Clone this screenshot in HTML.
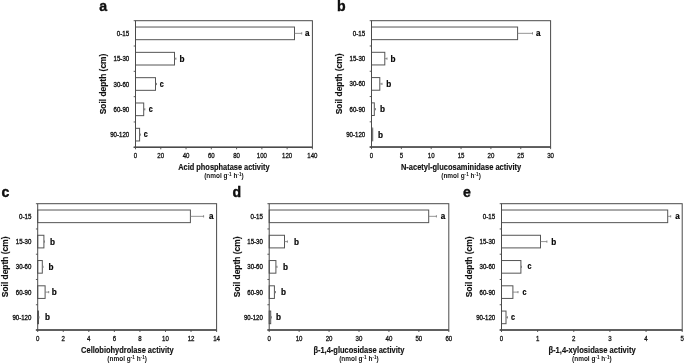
<!DOCTYPE html>
<html><head><meta charset="utf-8"><title>Soil enzyme activity by depth</title>
<style>
html,body{margin:0;padding:0;background:#fff;}
body{width:685px;height:364px;overflow:hidden;}
svg{display:block;font-family:"Liberation Sans",sans-serif;filter:blur(0.35px);}
text{fill:#111;}
.cl{font-size:6.6px;stroke:#111;stroke-width:0.32px;}
.tl{font-size:6.7px;stroke:#111;stroke-width:0.28px;}
.sg{fill:#000;stroke:#000;stroke-width:0.2px;}
.yl,.xl{stroke:#111;stroke-width:0.15px;}
</style></head>
<body>
<svg width="685" height="364" viewBox="0 0 685 364">
<rect width="685" height="364" fill="#fff"/>
<rect x="135.5" y="27.03" width="159" height="12.66" fill="#fff" stroke="#555" stroke-width="1"/>
<line x1="294.5" y1="33.36" x2="301.7" y2="33.36" stroke="#7a7a7a" stroke-width="0.8"/>
<line x1="301.7" y1="32.26" x2="301.7" y2="34.46" stroke="#7a7a7a" stroke-width="0.9"/>
<text class="sg" x="305.1" y="35.96" font-size="8.6" font-weight="bold" textLength="4.5" lengthAdjust="spacingAndGlyphs">a</text>
<text class="cl" x="116.8" y="35.86" textLength="12.4" lengthAdjust="spacingAndGlyphs">0-15</text>
<rect x="135.5" y="52.35" width="39" height="12.66" fill="#fff" stroke="#555" stroke-width="1"/>
<line x1="174.5" y1="58.68" x2="175.9" y2="58.68" stroke="#7a7a7a" stroke-width="0.8"/>
<line x1="175.9" y1="57.58" x2="175.9" y2="59.78" stroke="#7a7a7a" stroke-width="0.9"/>
<text class="sg" x="179.6" y="61.78" font-size="9" font-weight="bold" textLength="5" lengthAdjust="spacingAndGlyphs">b</text>
<text class="cl" x="113.6" y="61.18" textLength="15.6" lengthAdjust="spacingAndGlyphs">15-30</text>
<rect x="135.5" y="77.67" width="20" height="12.66" fill="#fff" stroke="#555" stroke-width="1"/>
<line x1="155.5" y1="84" x2="156.5" y2="84" stroke="#7a7a7a" stroke-width="0.8"/>
<line x1="156.5" y1="82.9" x2="156.5" y2="85.1" stroke="#7a7a7a" stroke-width="0.9"/>
<text class="sg" x="159.8" y="86.6" font-size="8.6" font-weight="bold" textLength="4" lengthAdjust="spacingAndGlyphs">c</text>
<text class="cl" x="113.6" y="86.5" textLength="15.6" lengthAdjust="spacingAndGlyphs">30-60</text>
<rect x="135.5" y="102.99" width="8.2" height="12.66" fill="#fff" stroke="#555" stroke-width="1"/>
<line x1="143.7" y1="109.32" x2="144.8" y2="109.32" stroke="#7a7a7a" stroke-width="0.8"/>
<line x1="144.8" y1="108.22" x2="144.8" y2="110.42" stroke="#7a7a7a" stroke-width="0.9"/>
<text class="sg" x="148.8" y="111.92" font-size="8.6" font-weight="bold" textLength="4" lengthAdjust="spacingAndGlyphs">c</text>
<text class="cl" x="113.6" y="111.82" textLength="15.6" lengthAdjust="spacingAndGlyphs">60-90</text>
<rect x="135.5" y="128.31" width="4.1" height="12.66" fill="#fff" stroke="#555" stroke-width="1"/>
<line x1="139.6" y1="134.64" x2="140.4" y2="134.64" stroke="#7a7a7a" stroke-width="0.8"/>
<line x1="140.4" y1="133.54" x2="140.4" y2="135.74" stroke="#7a7a7a" stroke-width="0.9"/>
<text class="sg" x="143.8" y="137.24" font-size="8.6" font-weight="bold" textLength="4" lengthAdjust="spacingAndGlyphs">c</text>
<text class="cl" x="110.2" y="137.14" textLength="19" lengthAdjust="spacingAndGlyphs">90-120</text>
<line x1="133.7" y1="20.7" x2="135.5" y2="20.7" stroke="#4a4a4a" stroke-width="0.9"/>
<line x1="133.7" y1="46.02" x2="135.5" y2="46.02" stroke="#4a4a4a" stroke-width="0.9"/>
<line x1="133.7" y1="71.34" x2="135.5" y2="71.34" stroke="#4a4a4a" stroke-width="0.9"/>
<line x1="133.7" y1="96.66" x2="135.5" y2="96.66" stroke="#4a4a4a" stroke-width="0.9"/>
<line x1="133.7" y1="121.98" x2="135.5" y2="121.98" stroke="#4a4a4a" stroke-width="0.9"/>
<line x1="133.7" y1="147.3" x2="135.5" y2="147.3" stroke="#4a4a4a" stroke-width="0.9"/>
<line x1="135.5" y1="147.3" x2="135.5" y2="149.3" stroke="#4a4a4a" stroke-width="0.9"/>
<text class="tl" x="133.8" y="158" textLength="3.4" lengthAdjust="spacingAndGlyphs">0</text>
<line x1="160.77" y1="147.3" x2="160.77" y2="149.3" stroke="#4a4a4a" stroke-width="0.9"/>
<text class="tl" x="157.37" y="158" textLength="6.8" lengthAdjust="spacingAndGlyphs">20</text>
<line x1="186.04" y1="147.3" x2="186.04" y2="149.3" stroke="#4a4a4a" stroke-width="0.9"/>
<text class="tl" x="182.64" y="158" textLength="6.8" lengthAdjust="spacingAndGlyphs">40</text>
<line x1="211.31" y1="147.3" x2="211.31" y2="149.3" stroke="#4a4a4a" stroke-width="0.9"/>
<text class="tl" x="207.91" y="158" textLength="6.8" lengthAdjust="spacingAndGlyphs">60</text>
<line x1="236.59" y1="147.3" x2="236.59" y2="149.3" stroke="#4a4a4a" stroke-width="0.9"/>
<text class="tl" x="233.19" y="158" textLength="6.8" lengthAdjust="spacingAndGlyphs">80</text>
<line x1="261.86" y1="147.3" x2="261.86" y2="149.3" stroke="#4a4a4a" stroke-width="0.9"/>
<text class="tl" x="256.76" y="158" textLength="10.2" lengthAdjust="spacingAndGlyphs">100</text>
<line x1="287.13" y1="147.3" x2="287.13" y2="149.3" stroke="#4a4a4a" stroke-width="0.9"/>
<text class="tl" x="282.03" y="158" textLength="10.2" lengthAdjust="spacingAndGlyphs">120</text>
<line x1="312.4" y1="147.3" x2="312.4" y2="149.3" stroke="#4a4a4a" stroke-width="0.9"/>
<text class="tl" x="307.3" y="158" textLength="10.2" lengthAdjust="spacingAndGlyphs">140</text>
<rect x="135.5" y="20.7" width="176.9" height="126.6" fill="none" stroke="#4a4a4a" stroke-width="1"/>
<line x1="133.7" y1="147.3" x2="312.4" y2="147.3" stroke="#4a4a4a" stroke-width="1.5"/>
<text class="xl" x="178.2" y="170.4" font-size="8.3" font-weight="bold" textLength="91.4" lengthAdjust="spacingAndGlyphs">Acid phosphatase activity</text>
<text x="204.15" y="178.3" font-size="6.4" font-weight="bold" textLength="39.6" lengthAdjust="spacingAndGlyphs">(nmol g<tspan dy="-2.4" font-size="4.6">-1</tspan><tspan dy="2.4"> h</tspan><tspan dy="-2.4" font-size="4.6">-1</tspan><tspan dy="2.4">)</tspan></text>
<text class="yl" transform="translate(106.1 84) rotate(-90)" x="-30.35" y="0" font-size="9.3" font-weight="bold" textLength="60.7" lengthAdjust="spacingAndGlyphs">Soil depth (cm)</text>
<text x="99.3" y="11.1" font-size="14.1" font-weight="bold" fill="#000" stroke="#000" stroke-width="0.35">a</text>
<rect x="371.5" y="27.02" width="146.1" height="12.64" fill="#fff" stroke="#555" stroke-width="1"/>
<line x1="517.6" y1="33.34" x2="532.5" y2="33.34" stroke="#7a7a7a" stroke-width="0.8"/>
<line x1="532.5" y1="32.24" x2="532.5" y2="34.44" stroke="#7a7a7a" stroke-width="0.9"/>
<text class="sg" x="536.1" y="35.94" font-size="8.6" font-weight="bold" textLength="4.5" lengthAdjust="spacingAndGlyphs">a</text>
<text class="cl" x="352.8" y="35.84" textLength="12.4" lengthAdjust="spacingAndGlyphs">0-15</text>
<rect x="371.5" y="52.3" width="13.3" height="12.64" fill="#fff" stroke="#555" stroke-width="1"/>
<line x1="384.8" y1="58.62" x2="387" y2="58.62" stroke="#7a7a7a" stroke-width="0.8"/>
<line x1="387" y1="57.52" x2="387" y2="59.72" stroke="#7a7a7a" stroke-width="0.9"/>
<text class="sg" x="390.4" y="61.72" font-size="9" font-weight="bold" textLength="5" lengthAdjust="spacingAndGlyphs">b</text>
<text class="cl" x="349.6" y="61.12" textLength="15.6" lengthAdjust="spacingAndGlyphs">15-30</text>
<rect x="371.5" y="77.58" width="8.3" height="12.64" fill="#fff" stroke="#555" stroke-width="1"/>
<line x1="379.8" y1="83.9" x2="382" y2="83.9" stroke="#7a7a7a" stroke-width="0.8"/>
<line x1="382" y1="82.8" x2="382" y2="85" stroke="#7a7a7a" stroke-width="0.9"/>
<text class="sg" x="386.3" y="87" font-size="9" font-weight="bold" textLength="5" lengthAdjust="spacingAndGlyphs">b</text>
<text class="cl" x="349.6" y="86.4" textLength="15.6" lengthAdjust="spacingAndGlyphs">30-60</text>
<rect x="371.5" y="102.86" width="2.8" height="12.64" fill="#fff" stroke="#555" stroke-width="1"/>
<line x1="374.3" y1="109.18" x2="375.5" y2="109.18" stroke="#7a7a7a" stroke-width="0.8"/>
<line x1="375.5" y1="108.08" x2="375.5" y2="110.28" stroke="#7a7a7a" stroke-width="0.9"/>
<text class="sg" x="380.1" y="112.28" font-size="9" font-weight="bold" textLength="5" lengthAdjust="spacingAndGlyphs">b</text>
<text class="cl" x="349.6" y="111.68" textLength="15.6" lengthAdjust="spacingAndGlyphs">60-90</text>
<rect x="371.5" y="128.14" width="1.2" height="12.64" fill="#fff" stroke="#555" stroke-width="1"/>
<text class="sg" x="378" y="137.56" font-size="9" font-weight="bold" textLength="5" lengthAdjust="spacingAndGlyphs">b</text>
<text class="cl" x="346.2" y="136.96" textLength="19" lengthAdjust="spacingAndGlyphs">90-120</text>
<line x1="369.7" y1="20.7" x2="371.5" y2="20.7" stroke="#4a4a4a" stroke-width="0.9"/>
<line x1="369.7" y1="45.98" x2="371.5" y2="45.98" stroke="#4a4a4a" stroke-width="0.9"/>
<line x1="369.7" y1="71.26" x2="371.5" y2="71.26" stroke="#4a4a4a" stroke-width="0.9"/>
<line x1="369.7" y1="96.54" x2="371.5" y2="96.54" stroke="#4a4a4a" stroke-width="0.9"/>
<line x1="369.7" y1="121.82" x2="371.5" y2="121.82" stroke="#4a4a4a" stroke-width="0.9"/>
<line x1="369.7" y1="147.1" x2="371.5" y2="147.1" stroke="#4a4a4a" stroke-width="0.9"/>
<line x1="371.5" y1="147.1" x2="371.5" y2="149.1" stroke="#4a4a4a" stroke-width="0.9"/>
<text class="tl" x="369.8" y="157.8" textLength="3.4" lengthAdjust="spacingAndGlyphs">0</text>
<line x1="401.35" y1="147.1" x2="401.35" y2="149.1" stroke="#4a4a4a" stroke-width="0.9"/>
<text class="tl" x="399.65" y="157.8" textLength="3.4" lengthAdjust="spacingAndGlyphs">5</text>
<line x1="431.2" y1="147.1" x2="431.2" y2="149.1" stroke="#4a4a4a" stroke-width="0.9"/>
<text class="tl" x="427.8" y="157.8" textLength="6.8" lengthAdjust="spacingAndGlyphs">10</text>
<line x1="461.05" y1="147.1" x2="461.05" y2="149.1" stroke="#4a4a4a" stroke-width="0.9"/>
<text class="tl" x="457.65" y="157.8" textLength="6.8" lengthAdjust="spacingAndGlyphs">15</text>
<line x1="490.9" y1="147.1" x2="490.9" y2="149.1" stroke="#4a4a4a" stroke-width="0.9"/>
<text class="tl" x="487.5" y="157.8" textLength="6.8" lengthAdjust="spacingAndGlyphs">20</text>
<line x1="520.75" y1="147.1" x2="520.75" y2="149.1" stroke="#4a4a4a" stroke-width="0.9"/>
<text class="tl" x="517.35" y="157.8" textLength="6.8" lengthAdjust="spacingAndGlyphs">25</text>
<line x1="550.6" y1="147.1" x2="550.6" y2="149.1" stroke="#4a4a4a" stroke-width="0.9"/>
<text class="tl" x="547.2" y="157.8" textLength="6.8" lengthAdjust="spacingAndGlyphs">30</text>
<rect x="371.5" y="20.7" width="179.1" height="126.4" fill="none" stroke="#4a4a4a" stroke-width="1"/>
<line x1="369.7" y1="147.1" x2="550.6" y2="147.1" stroke="#4a4a4a" stroke-width="1.5"/>
<text class="xl" x="400.9" y="170.2" font-size="8.3" font-weight="bold" textLength="120.3" lengthAdjust="spacingAndGlyphs">N-acetyl-glucosaminidase activity</text>
<text x="441.25" y="178.1" font-size="6.4" font-weight="bold" textLength="39.6" lengthAdjust="spacingAndGlyphs">(nmol g<tspan dy="-2.4" font-size="4.6">-1</tspan><tspan dy="2.4"> h</tspan><tspan dy="-2.4" font-size="4.6">-1</tspan><tspan dy="2.4">)</tspan></text>
<text class="yl" transform="translate(342.1 83.9) rotate(-90)" x="-30.35" y="0" font-size="9.3" font-weight="bold" textLength="60.7" lengthAdjust="spacingAndGlyphs">Soil depth (cm)</text>
<text x="336.9" y="11.1" font-size="14.1" font-weight="bold" fill="#000" stroke="#000" stroke-width="0.35">b</text>
<rect x="37.7" y="210.01" width="152.7" height="12.63" fill="#fff" stroke="#555" stroke-width="1"/>
<line x1="190.4" y1="216.33" x2="203.6" y2="216.33" stroke="#7a7a7a" stroke-width="0.8"/>
<line x1="203.6" y1="215.23" x2="203.6" y2="217.43" stroke="#7a7a7a" stroke-width="0.9"/>
<text class="sg" x="209" y="218.93" font-size="8.6" font-weight="bold" textLength="4.5" lengthAdjust="spacingAndGlyphs">a</text>
<text class="cl" x="19" y="218.83" textLength="12.4" lengthAdjust="spacingAndGlyphs">0-15</text>
<rect x="37.7" y="235.27" width="6.2" height="12.63" fill="#fff" stroke="#555" stroke-width="1"/>
<line x1="43.9" y1="241.59" x2="44.5" y2="241.59" stroke="#7a7a7a" stroke-width="0.8"/>
<line x1="44.5" y1="240.49" x2="44.5" y2="242.69" stroke="#7a7a7a" stroke-width="0.9"/>
<text class="sg" x="49.9" y="244.69" font-size="9" font-weight="bold" textLength="5" lengthAdjust="spacingAndGlyphs">b</text>
<text class="cl" x="15.8" y="244.09" textLength="15.6" lengthAdjust="spacingAndGlyphs">15-30</text>
<rect x="37.7" y="260.54" width="4.6" height="12.63" fill="#fff" stroke="#555" stroke-width="1"/>
<line x1="42.3" y1="266.85" x2="43" y2="266.85" stroke="#7a7a7a" stroke-width="0.8"/>
<line x1="43" y1="265.75" x2="43" y2="267.95" stroke="#7a7a7a" stroke-width="0.9"/>
<text class="sg" x="48.5" y="269.95" font-size="9" font-weight="bold" textLength="5" lengthAdjust="spacingAndGlyphs">b</text>
<text class="cl" x="15.8" y="269.35" textLength="15.6" lengthAdjust="spacingAndGlyphs">30-60</text>
<rect x="37.7" y="285.8" width="7.4" height="12.63" fill="#fff" stroke="#555" stroke-width="1"/>
<line x1="45.1" y1="292.11" x2="48.7" y2="292.11" stroke="#7a7a7a" stroke-width="0.8"/>
<line x1="48.7" y1="291.01" x2="48.7" y2="293.21" stroke="#7a7a7a" stroke-width="0.9"/>
<text class="sg" x="51.8" y="295.21" font-size="9" font-weight="bold" textLength="5" lengthAdjust="spacingAndGlyphs">b</text>
<text class="cl" x="15.8" y="294.61" textLength="15.6" lengthAdjust="spacingAndGlyphs">60-90</text>
<rect x="37.7" y="311.06" width="0.8" height="12.63" fill="#fff" stroke="#555" stroke-width="1"/>
<line x1="38.5" y1="317.37" x2="39" y2="317.37" stroke="#7a7a7a" stroke-width="0.8"/>
<line x1="39" y1="316.27" x2="39" y2="318.47" stroke="#7a7a7a" stroke-width="0.9"/>
<text class="sg" x="44.9" y="320.47" font-size="9" font-weight="bold" textLength="5" lengthAdjust="spacingAndGlyphs">b</text>
<text class="cl" x="12.4" y="319.87" textLength="19" lengthAdjust="spacingAndGlyphs">90-120</text>
<line x1="35.9" y1="203.7" x2="37.7" y2="203.7" stroke="#4a4a4a" stroke-width="0.9"/>
<line x1="35.9" y1="228.96" x2="37.7" y2="228.96" stroke="#4a4a4a" stroke-width="0.9"/>
<line x1="35.9" y1="254.22" x2="37.7" y2="254.22" stroke="#4a4a4a" stroke-width="0.9"/>
<line x1="35.9" y1="279.48" x2="37.7" y2="279.48" stroke="#4a4a4a" stroke-width="0.9"/>
<line x1="35.9" y1="304.74" x2="37.7" y2="304.74" stroke="#4a4a4a" stroke-width="0.9"/>
<line x1="35.9" y1="330" x2="37.7" y2="330" stroke="#4a4a4a" stroke-width="0.9"/>
<line x1="37.7" y1="330" x2="37.7" y2="332" stroke="#4a4a4a" stroke-width="0.9"/>
<text class="tl" x="36" y="340.7" textLength="3.4" lengthAdjust="spacingAndGlyphs">0</text>
<line x1="63.26" y1="330" x2="63.26" y2="332" stroke="#4a4a4a" stroke-width="0.9"/>
<text class="tl" x="61.56" y="340.7" textLength="3.4" lengthAdjust="spacingAndGlyphs">2</text>
<line x1="88.81" y1="330" x2="88.81" y2="332" stroke="#4a4a4a" stroke-width="0.9"/>
<text class="tl" x="87.11" y="340.7" textLength="3.4" lengthAdjust="spacingAndGlyphs">4</text>
<line x1="114.37" y1="330" x2="114.37" y2="332" stroke="#4a4a4a" stroke-width="0.9"/>
<text class="tl" x="112.67" y="340.7" textLength="3.4" lengthAdjust="spacingAndGlyphs">6</text>
<line x1="139.93" y1="330" x2="139.93" y2="332" stroke="#4a4a4a" stroke-width="0.9"/>
<text class="tl" x="138.23" y="340.7" textLength="3.4" lengthAdjust="spacingAndGlyphs">8</text>
<line x1="165.49" y1="330" x2="165.49" y2="332" stroke="#4a4a4a" stroke-width="0.9"/>
<text class="tl" x="162.09" y="340.7" textLength="6.8" lengthAdjust="spacingAndGlyphs">10</text>
<line x1="191.04" y1="330" x2="191.04" y2="332" stroke="#4a4a4a" stroke-width="0.9"/>
<text class="tl" x="187.64" y="340.7" textLength="6.8" lengthAdjust="spacingAndGlyphs">12</text>
<line x1="216.6" y1="330" x2="216.6" y2="332" stroke="#4a4a4a" stroke-width="0.9"/>
<text class="tl" x="213.2" y="340.7" textLength="6.8" lengthAdjust="spacingAndGlyphs">14</text>
<rect x="37.7" y="203.7" width="178.9" height="126.3" fill="none" stroke="#4a4a4a" stroke-width="1"/>
<line x1="35.9" y1="330" x2="216.6" y2="330" stroke="#4a4a4a" stroke-width="1.5"/>
<text class="xl" x="81.1" y="353.1" font-size="8.3" font-weight="bold" textLength="92.5" lengthAdjust="spacingAndGlyphs">Cellobiohydrolase activity</text>
<text x="107.35" y="361" font-size="6.4" font-weight="bold" textLength="39.6" lengthAdjust="spacingAndGlyphs">(nmol g<tspan dy="-2.4" font-size="4.6">-1</tspan><tspan dy="2.4"> h</tspan><tspan dy="-2.4" font-size="4.6">-1</tspan><tspan dy="2.4">)</tspan></text>
<text class="yl" transform="translate(8.3 266.85) rotate(-90)" x="-30.35" y="0" font-size="9.3" font-weight="bold" textLength="60.7" lengthAdjust="spacingAndGlyphs">Soil depth (cm)</text>
<text x="1.5" y="196.8" font-size="14.1" font-weight="bold" fill="#000" stroke="#000" stroke-width="0.35">c</text>
<rect x="269.2" y="210.01" width="159.5" height="12.63" fill="#fff" stroke="#555" stroke-width="1"/>
<line x1="428.7" y1="216.33" x2="436.4" y2="216.33" stroke="#7a7a7a" stroke-width="0.8"/>
<line x1="436.4" y1="215.23" x2="436.4" y2="217.43" stroke="#7a7a7a" stroke-width="0.9"/>
<text class="sg" x="440.7" y="218.93" font-size="8.6" font-weight="bold" textLength="4.5" lengthAdjust="spacingAndGlyphs">a</text>
<text class="cl" x="250.5" y="218.83" textLength="12.4" lengthAdjust="spacingAndGlyphs">0-15</text>
<rect x="269.2" y="235.27" width="15.3" height="12.63" fill="#fff" stroke="#555" stroke-width="1"/>
<line x1="284.5" y1="241.59" x2="287.4" y2="241.59" stroke="#7a7a7a" stroke-width="0.8"/>
<line x1="287.4" y1="240.49" x2="287.4" y2="242.69" stroke="#7a7a7a" stroke-width="0.9"/>
<text class="sg" x="293.9" y="244.69" font-size="9" font-weight="bold" textLength="5" lengthAdjust="spacingAndGlyphs">b</text>
<text class="cl" x="247.3" y="244.09" textLength="15.6" lengthAdjust="spacingAndGlyphs">15-30</text>
<rect x="269.2" y="260.54" width="6.7" height="12.63" fill="#fff" stroke="#555" stroke-width="1"/>
<line x1="275.9" y1="266.85" x2="277" y2="266.85" stroke="#7a7a7a" stroke-width="0.8"/>
<line x1="277" y1="265.75" x2="277" y2="267.95" stroke="#7a7a7a" stroke-width="0.9"/>
<text class="sg" x="282.9" y="269.95" font-size="9" font-weight="bold" textLength="5" lengthAdjust="spacingAndGlyphs">b</text>
<text class="cl" x="247.3" y="269.35" textLength="15.6" lengthAdjust="spacingAndGlyphs">30-60</text>
<rect x="269.2" y="285.8" width="5.2" height="12.63" fill="#fff" stroke="#555" stroke-width="1"/>
<line x1="274.4" y1="292.11" x2="275.5" y2="292.11" stroke="#7a7a7a" stroke-width="0.8"/>
<line x1="275.5" y1="291.01" x2="275.5" y2="293.21" stroke="#7a7a7a" stroke-width="0.9"/>
<text class="sg" x="280.9" y="295.21" font-size="9" font-weight="bold" textLength="5" lengthAdjust="spacingAndGlyphs">b</text>
<text class="cl" x="247.3" y="294.61" textLength="15.6" lengthAdjust="spacingAndGlyphs">60-90</text>
<rect x="269.2" y="311.06" width="1.5" height="12.63" fill="#fff" stroke="#555" stroke-width="1"/>
<line x1="270.7" y1="317.37" x2="271.5" y2="317.37" stroke="#7a7a7a" stroke-width="0.8"/>
<line x1="271.5" y1="316.27" x2="271.5" y2="318.47" stroke="#7a7a7a" stroke-width="0.9"/>
<text class="sg" x="276" y="320.47" font-size="9" font-weight="bold" textLength="5" lengthAdjust="spacingAndGlyphs">b</text>
<text class="cl" x="243.9" y="319.87" textLength="19" lengthAdjust="spacingAndGlyphs">90-120</text>
<line x1="267.4" y1="203.7" x2="269.2" y2="203.7" stroke="#4a4a4a" stroke-width="0.9"/>
<line x1="267.4" y1="228.96" x2="269.2" y2="228.96" stroke="#4a4a4a" stroke-width="0.9"/>
<line x1="267.4" y1="254.22" x2="269.2" y2="254.22" stroke="#4a4a4a" stroke-width="0.9"/>
<line x1="267.4" y1="279.48" x2="269.2" y2="279.48" stroke="#4a4a4a" stroke-width="0.9"/>
<line x1="267.4" y1="304.74" x2="269.2" y2="304.74" stroke="#4a4a4a" stroke-width="0.9"/>
<line x1="267.4" y1="330" x2="269.2" y2="330" stroke="#4a4a4a" stroke-width="0.9"/>
<line x1="269.2" y1="330" x2="269.2" y2="332" stroke="#4a4a4a" stroke-width="0.9"/>
<text class="tl" x="267.5" y="340.7" textLength="3.4" lengthAdjust="spacingAndGlyphs">0</text>
<line x1="299.13" y1="330" x2="299.13" y2="332" stroke="#4a4a4a" stroke-width="0.9"/>
<text class="tl" x="295.73" y="340.7" textLength="6.8" lengthAdjust="spacingAndGlyphs">10</text>
<line x1="329.07" y1="330" x2="329.07" y2="332" stroke="#4a4a4a" stroke-width="0.9"/>
<text class="tl" x="325.67" y="340.7" textLength="6.8" lengthAdjust="spacingAndGlyphs">20</text>
<line x1="359" y1="330" x2="359" y2="332" stroke="#4a4a4a" stroke-width="0.9"/>
<text class="tl" x="355.6" y="340.7" textLength="6.8" lengthAdjust="spacingAndGlyphs">30</text>
<line x1="388.93" y1="330" x2="388.93" y2="332" stroke="#4a4a4a" stroke-width="0.9"/>
<text class="tl" x="385.53" y="340.7" textLength="6.8" lengthAdjust="spacingAndGlyphs">40</text>
<line x1="418.87" y1="330" x2="418.87" y2="332" stroke="#4a4a4a" stroke-width="0.9"/>
<text class="tl" x="415.47" y="340.7" textLength="6.8" lengthAdjust="spacingAndGlyphs">50</text>
<line x1="448.8" y1="330" x2="448.8" y2="332" stroke="#4a4a4a" stroke-width="0.9"/>
<text class="tl" x="445.4" y="340.7" textLength="6.8" lengthAdjust="spacingAndGlyphs">60</text>
<rect x="269.2" y="203.7" width="179.6" height="126.3" fill="none" stroke="#4a4a4a" stroke-width="1"/>
<line x1="267.4" y1="330" x2="448.8" y2="330" stroke="#4a4a4a" stroke-width="1.5"/>
<text class="xl" x="313.4" y="353.1" font-size="8.3" font-weight="bold" textLength="91.1" lengthAdjust="spacingAndGlyphs">β-1,4-glucosidase activity</text>
<text x="339.2" y="361" font-size="6.4" font-weight="bold" textLength="39.6" lengthAdjust="spacingAndGlyphs">(nmol g<tspan dy="-2.4" font-size="4.6">-1</tspan><tspan dy="2.4"> h</tspan><tspan dy="-2.4" font-size="4.6">-1</tspan><tspan dy="2.4">)</tspan></text>
<text class="yl" transform="translate(239.8 266.85) rotate(-90)" x="-30.35" y="0" font-size="9.3" font-weight="bold" textLength="60.7" lengthAdjust="spacingAndGlyphs">Soil depth (cm)</text>
<text x="232.6" y="196.8" font-size="14.1" font-weight="bold" fill="#000" stroke="#000" stroke-width="0.35">d</text>
<rect x="501.5" y="210.01" width="166.2" height="12.63" fill="#fff" stroke="#555" stroke-width="1"/>
<line x1="667.7" y1="216.33" x2="670.7" y2="216.33" stroke="#7a7a7a" stroke-width="0.8"/>
<line x1="670.7" y1="215.23" x2="670.7" y2="217.43" stroke="#7a7a7a" stroke-width="0.9"/>
<text class="sg" x="675.2" y="218.93" font-size="8.6" font-weight="bold" textLength="4.5" lengthAdjust="spacingAndGlyphs">a</text>
<text class="cl" x="482.8" y="218.83" textLength="12.4" lengthAdjust="spacingAndGlyphs">0-15</text>
<rect x="501.5" y="235.27" width="39" height="12.63" fill="#fff" stroke="#555" stroke-width="1"/>
<line x1="540.5" y1="241.59" x2="546.9" y2="241.59" stroke="#7a7a7a" stroke-width="0.8"/>
<line x1="546.9" y1="240.49" x2="546.9" y2="242.69" stroke="#7a7a7a" stroke-width="0.9"/>
<text class="sg" x="551.3" y="244.69" font-size="9" font-weight="bold" textLength="5" lengthAdjust="spacingAndGlyphs">b</text>
<text class="cl" x="479.6" y="244.09" textLength="15.6" lengthAdjust="spacingAndGlyphs">15-30</text>
<rect x="501.5" y="260.54" width="19.4" height="12.63" fill="#fff" stroke="#555" stroke-width="1"/>
<line x1="520.9" y1="266.85" x2="521.5" y2="266.85" stroke="#7a7a7a" stroke-width="0.8"/>
<line x1="521.5" y1="265.75" x2="521.5" y2="267.95" stroke="#7a7a7a" stroke-width="0.9"/>
<text class="sg" x="527.4" y="269.45" font-size="8.6" font-weight="bold" textLength="4" lengthAdjust="spacingAndGlyphs">c</text>
<text class="cl" x="479.6" y="269.35" textLength="15.6" lengthAdjust="spacingAndGlyphs">30-60</text>
<rect x="501.5" y="285.8" width="11.4" height="12.63" fill="#fff" stroke="#555" stroke-width="1"/>
<line x1="512.9" y1="292.11" x2="518" y2="292.11" stroke="#7a7a7a" stroke-width="0.8"/>
<line x1="518" y1="291.01" x2="518" y2="293.21" stroke="#7a7a7a" stroke-width="0.9"/>
<text class="sg" x="522.5" y="294.71" font-size="8.6" font-weight="bold" textLength="4" lengthAdjust="spacingAndGlyphs">c</text>
<text class="cl" x="479.6" y="294.61" textLength="15.6" lengthAdjust="spacingAndGlyphs">60-90</text>
<rect x="501.5" y="311.06" width="4.5" height="12.63" fill="#fff" stroke="#555" stroke-width="1"/>
<line x1="506" y1="317.37" x2="507.5" y2="317.37" stroke="#7a7a7a" stroke-width="0.8"/>
<line x1="507.5" y1="316.27" x2="507.5" y2="318.47" stroke="#7a7a7a" stroke-width="0.9"/>
<text class="sg" x="510.9" y="319.97" font-size="8.6" font-weight="bold" textLength="4" lengthAdjust="spacingAndGlyphs">c</text>
<text class="cl" x="476.2" y="319.87" textLength="19" lengthAdjust="spacingAndGlyphs">90-120</text>
<line x1="499.7" y1="203.7" x2="501.5" y2="203.7" stroke="#4a4a4a" stroke-width="0.9"/>
<line x1="499.7" y1="228.96" x2="501.5" y2="228.96" stroke="#4a4a4a" stroke-width="0.9"/>
<line x1="499.7" y1="254.22" x2="501.5" y2="254.22" stroke="#4a4a4a" stroke-width="0.9"/>
<line x1="499.7" y1="279.48" x2="501.5" y2="279.48" stroke="#4a4a4a" stroke-width="0.9"/>
<line x1="499.7" y1="304.74" x2="501.5" y2="304.74" stroke="#4a4a4a" stroke-width="0.9"/>
<line x1="499.7" y1="330" x2="501.5" y2="330" stroke="#4a4a4a" stroke-width="0.9"/>
<line x1="501.5" y1="330" x2="501.5" y2="332" stroke="#4a4a4a" stroke-width="0.9"/>
<text class="tl" x="499.8" y="340.7" textLength="3.4" lengthAdjust="spacingAndGlyphs">0</text>
<line x1="537.64" y1="330" x2="537.64" y2="332" stroke="#4a4a4a" stroke-width="0.9"/>
<text class="tl" x="535.94" y="340.7" textLength="3.4" lengthAdjust="spacingAndGlyphs">1</text>
<line x1="573.78" y1="330" x2="573.78" y2="332" stroke="#4a4a4a" stroke-width="0.9"/>
<text class="tl" x="572.08" y="340.7" textLength="3.4" lengthAdjust="spacingAndGlyphs">2</text>
<line x1="609.92" y1="330" x2="609.92" y2="332" stroke="#4a4a4a" stroke-width="0.9"/>
<text class="tl" x="608.22" y="340.7" textLength="3.4" lengthAdjust="spacingAndGlyphs">3</text>
<line x1="646.06" y1="330" x2="646.06" y2="332" stroke="#4a4a4a" stroke-width="0.9"/>
<text class="tl" x="644.36" y="340.7" textLength="3.4" lengthAdjust="spacingAndGlyphs">4</text>
<line x1="682.2" y1="330" x2="682.2" y2="332" stroke="#4a4a4a" stroke-width="0.9"/>
<text class="tl" x="680.5" y="340.7" textLength="3.4" lengthAdjust="spacingAndGlyphs">5</text>
<rect x="501.5" y="203.7" width="180.7" height="126.3" fill="none" stroke="#4a4a4a" stroke-width="1"/>
<line x1="499.7" y1="330" x2="682.2" y2="330" stroke="#4a4a4a" stroke-width="1.5"/>
<text class="xl" x="548.4" y="353.1" font-size="8.3" font-weight="bold" textLength="87.3" lengthAdjust="spacingAndGlyphs">β-1,4-xylosidase activity</text>
<text x="572.05" y="361" font-size="6.4" font-weight="bold" textLength="39.6" lengthAdjust="spacingAndGlyphs">(nmol g<tspan dy="-2.4" font-size="4.6">-1</tspan><tspan dy="2.4"> h</tspan><tspan dy="-2.4" font-size="4.6">-1</tspan><tspan dy="2.4">)</tspan></text>
<text class="yl" transform="translate(472.1 266.85) rotate(-90)" x="-30.35" y="0" font-size="9.3" font-weight="bold" textLength="60.7" lengthAdjust="spacingAndGlyphs">Soil depth (cm)</text>
<text x="463" y="196.8" font-size="14.1" font-weight="bold" fill="#000" stroke="#000" stroke-width="0.35">e</text>
</svg>
</body></html>
